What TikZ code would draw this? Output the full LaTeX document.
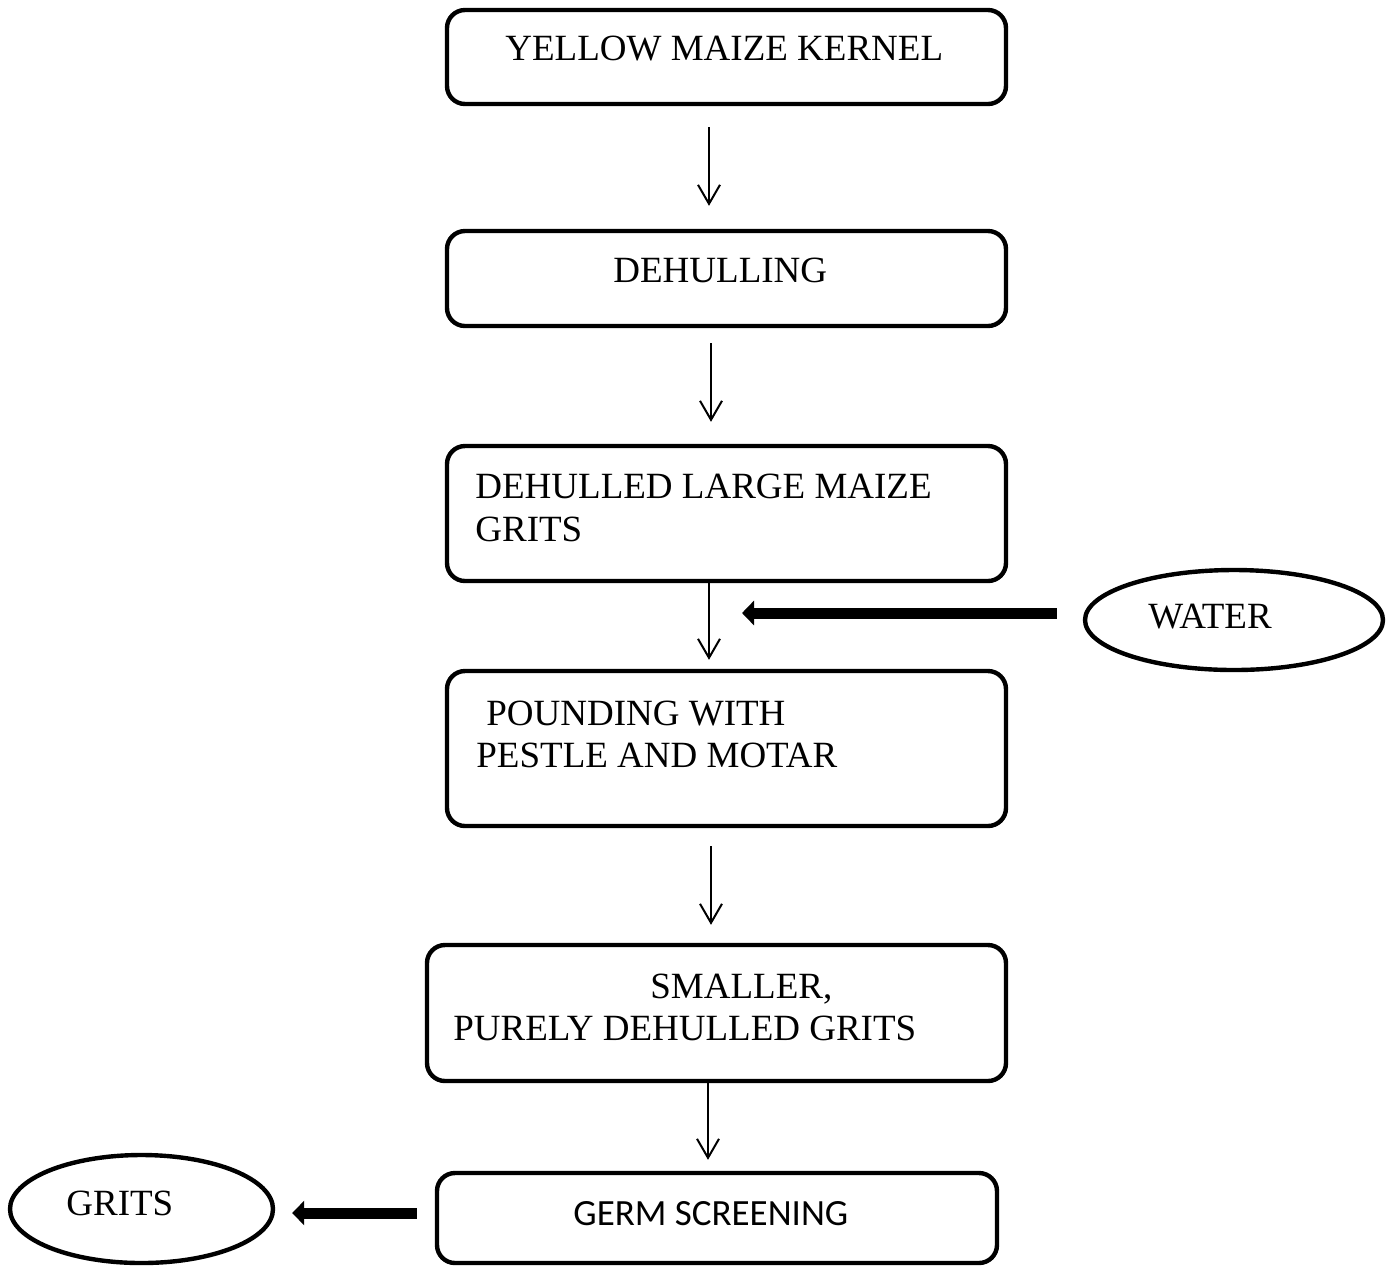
\documentclass[tikz,border=0pt]{standalone}
\usepackage{fontspec}
\setmainfont{Liberation Serif}
\newfontfamily\calibrifont{Carlito}
\usetikzlibrary{arrows.meta,shapes.geometric,calc,fit}
\begin{document}
\begin{tikzpicture}[x=0.5pt,y=-0.5pt,
  stepbox/.style={draw,line width=2.2pt,rounded corners=9pt,inner sep=0pt},
  oval/.style={draw,ellipse,line width=2.2pt,inner sep=0pt},
  txt/.style={inner sep=0pt,anchor=base west,font=\fontsize{18.5}{21}\selectfont},
  flow/.style={line width=1pt,-{Straight Barb[length=9.5pt,width=11pt]}},
  feed/.style={line width=5.5pt,-{Triangle[length=6pt,width=12pt]}}]
\useasboundingbox (0,0) rectangle (1393,1266);

% process boxes
\node[stepbox,fit={(447,10) (1006,104)}] (b1) {};
\node[stepbox,fit={(447,231) (1006,326)}] (b2) {};
\node[stepbox,fit={(447,446) (1006,581)}] (b3) {};
\node[stepbox,fit={(447,671) (1006,826)}] (b4) {};
\node[stepbox,fit={(427,945) (1006,1081)}] (b5) {};
\node[stepbox,fit={(437,1173) (997,1263)}] (b6) {};

% ovals
\node[oval,minimum width=149pt,minimum height=50pt] (water) at (1234,620) {};
\node[oval,minimum width=131.5pt,minimum height=54pt] (grits) at (141.5,1209) {};

% texts
\node[txt] (t1) at (505,60) {YELLOW MAIZE KERNEL};
\node[txt] (t2) at (613,282) {DEHULLING};
\node[txt] (t3a) at (475,498) {DEHULLED LARGE MAIZE};
\node[txt] (t3b) at (475,541) {GRITS};
\node[txt] (t4a) at (486,725) {POUNDING WITH};
\node[txt] (t4b) at (476,767) {PESTLE AND MOTAR};
\node[txt] (t5a) at (650,998) {SMALLER,};
\node[txt] (t5b) at (453,1040) {PURELY DEHULLED GRITS};
\node[txt,font=\calibrifont\fontsize{18.5}{21}\selectfont] (t6) at (573,1225) {GERM SCREENING};
\node[txt] (tw) at (1148,628) {WATER};
\node[txt] (tg) at (66,1215) {GRITS};

% main flow
\draw[flow] ($(b1.south)+(-17.5,21)$) -- ($(b2.north)+(-17.5,-23)$);
\draw[flow] ($(b2.south)+(-15.5,15)$) -- ($(b3.north)+(-15.5,-22)$);
\draw[flow] ($(b3.south)+(-17.5,0)$) -- ($(b4.north)+(-17.5,-9)$);
\draw[flow] ($(b4.south)+(-15.5,18)$) -- ($(b5.north)+(-5.5,-18)$);
\draw[flow] ($(b5.south)+(-8.5,0)$) -- ($(b6.north)+(-9,-11)$);

% side inputs / outputs
\coordinate (wtip) at (742,613);
\draw[feed] ($(water.west)+(-26,-7)$) -- (wtip);
\draw[feed] ($(b6.west)+(-18,-5)$) -- ($(grits.east)+(17,4)$);
\end{tikzpicture}
\end{document}
